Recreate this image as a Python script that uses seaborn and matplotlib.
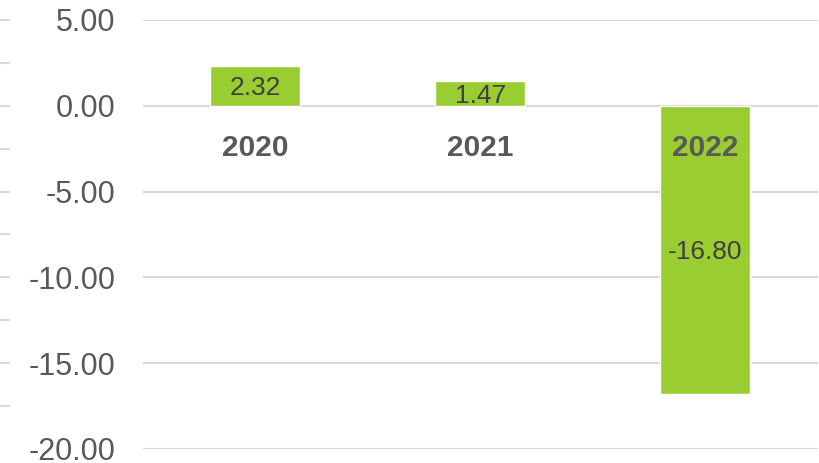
import matplotlib
matplotlib.use("Agg")
import matplotlib.pyplot as plt
import matplotlib.transforms as mtransforms
import seaborn as sns
import pandas as pd

years = ["2020", "2021", "2022"]
values = [2.32, 1.47, -16.80]
yticks = [5, 0, -5, -10, -15, -20]
side_marks = [5, 2.5, 0, -2.5, -5, -7.5, -10, -12.5, -15, -17.5]

sns.set_theme(style="white")
plt.rcParams["font.family"] = ["Liberation Sans", "DejaVu Sans"]

df = pd.DataFrame({"year": years, "value": values})

fig = plt.figure(figsize=(8.2, 4.63), dpi=100)
ax = fig.add_axes([143 / 820, 14 / 463, (818 - 143) / 820, (449 - 20) / 463])

sns.barplot(data=df, x="year", y="value", color="#9ACD32", width=0.4,
            saturation=1, ax=ax, zorder=3)

ax.set_ylim(-20, 5)
ax.set_xlim(-0.5, 2.5)
ax.set_yticks(yticks)
ax.set_yticklabels([f"{v:.2f}" for v in yticks], fontsize=22, color="#595959")
ax.tick_params(axis="y", length=0, pad=20)
ax.set_xticks([])
ax.set_xlabel("")
ax.set_ylabel("")
for s in ax.spines.values():
    s.set_visible(False)
ax.grid(axis="y", color="#d9d9d9", linewidth=1.5, zorder=0)
ax.set_axisbelow(True)

for i, (yr, v) in enumerate(zip(years, values)):
    ax.text(i, v / 2, f"{v:.2f}", ha="center", va="center_baseline",
            fontsize=19, color="#404040", zorder=5)
    ax.text(i, -2.3, yr, ha="center", va="center_baseline", fontsize=21.5,
            fontweight="bold", color="#595959", zorder=5)

trans = mtransforms.blended_transform_factory(fig.transFigure, ax.transData)
for m in side_marks:
    ax.plot([0, 9 / 820], [m, m], transform=trans, color="#d9d9d9",
            linewidth=1.5, clip_on=False)

fig.savefig("out.png", dpi=100)
